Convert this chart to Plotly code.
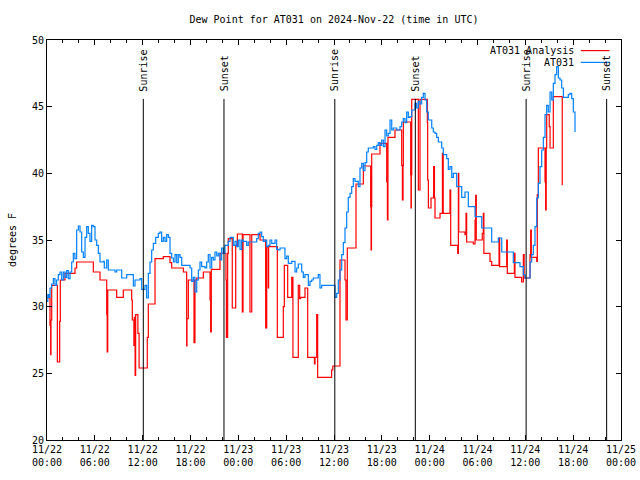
import datetime as dt
import plotly.graph_objects as go

# ---- data (hours after 2024-11-22 00:00 UTC, dew point degF) ----
obs_hours = [0.0, 0.1, 0.25, 0.38, 0.58, 0.8, 1.0, 1.2, 1.42, 1.63, 1.84, 2.05, 2.26, 2.47, 2.67, 2.89,
             3.1, 3.3, 3.5, 3.72, 3.93, 4.14, 4.35, 4.56, 4.77, 4.98, 5.18, 5.39, 5.6, 5.8, 6.02, 6.23,
             6.44, 6.65, 7.06, 7.19, 7.49, 7.69, 8.53, 8.74, 9.37, 10.0, 10.83, 11.04, 11.67, 11.88,
             12.29, 12.5, 12.71, 12.92, 13.13, 13.34, 13.63, 13.96, 14.17, 14.38, 14.59, 14.8, 15.01,
             15.22, 15.43, 15.64, 15.85, 16.06, 16.27, 16.47, 16.68, 16.9, 17.94, 18.15, 18.35, 18.56,
             18.78, 18.98, 19.19, 19.4, 19.82, 20.03, 20.23, 20.45, 20.66, 20.86, 21.07, 21.29, 21.49,
             21.7, 21.91, 22.12, 22.33, 22.74, 22.96, 23.37, 23.58, 23.8, 24.0, 24.21, 24.42, 24.63,
             25.05, 25.25, 26.3, 26.5, 26.72, 26.93, 27.13, 27.35, 27.56, 27.76, 27.97, 28.19, 28.6,
             28.81, 29.01, 29.23, 29.85, 30.07, 30.27, 30.69, 31.11, 31.32, 31.52, 31.95, 32.15, 32.36,
             32.78, 32.99, 33.2, 33.4, 34.03, 34.24, 34.45, 36.13, 36.34, 36.54, 36.75, 36.97, 37.17,
             37.38, 37.59, 37.79, 38.01, 38.22, 38.42, 38.63, 39.05, 39.26, 39.48, 39.68, 39.89, 40.1,
             40.3, 40.93, 41.14, 41.36, 41.56, 41.77, 41.98, 42.19, 42.4, 42.61, 42.81, 43.03, 43.24,
             43.44, 43.87, 44.28, 44.49, 44.69, 44.91, 45.12, 45.32, 45.53, 45.75, 46.16, 46.37, 46.58,
             46.79, 47.0, 47.2, 47.42, 47.63, 47.83, 48.26, 48.46, 48.67, 48.88, 49.09, 49.51, 49.71,
             50.14, 50.34, 50.55, 50.77, 50.97, 51.39, 52.02, 52.43, 52.85, 53.69, 54.53, 55.78, 56.61,
             57.04, 58.49, 59.33, 59.75, 59.96, 60.59, 60.8, 61.0, 61.21, 61.43, 61.63, 61.84, 62.05,
             62.26, 62.47, 62.68, 62.88, 63.1, 63.31, 63.51, 63.72, 63.93, 64.14, 64.35, 64.56, 64.77,
             65.39, 65.6, 65.82, 66.02, 66.23]
obs_values = [30.4, 30.9, 30.7, 31.4, 31.7, 32.1, 31.6, 32.0, 32.4, 32.6, 32.0, 32.6, 32.2, 32.7, 32.1, 32.6,
              33.35, 34.0, 33.6, 35.75, 36.05, 35.6, 34.1, 33.7, 35.2, 36.0, 35.5, 34.9, 36.1, 36.0, 35.0, 34.6,
              34.0, 33.35, 33.4, 32.9, 33.5, 32.75, 32.6, 32.75, 32.15, 32.4, 31.55, 32.0, 32.1, 31.3,
              31.6, 30.65, 32.5, 33.35, 34.25, 34.75, 35.2, 35.5, 35.6, 34.9, 35.2, 34.9, 35.4,
              35.2, 34.0, 33.65, 33.35, 33.9, 33.3, 33.9, 33.7, 33.1, 32.9, 31.9, 32.2, 31.1,
              32.0, 32.75, 33.35, 33.0, 32.9, 33.35, 33.9, 32.9, 33.7, 33.5, 34.1, 33.8, 34.0,
              33.5, 34.4, 34.0, 34.6, 34.9, 35.2, 34.6, 34.9, 34.5, 35.0, 34.3, 35.0, 34.9,
              34.6, 34.85, 35.1, 35.5, 35.6, 35.25, 34.9, 35.0, 34.5, 34.6, 35.0, 34.75, 35.0,
              34.3, 34.25, 34.4, 33.6, 33.8, 33.25, 33.4, 32.6, 32.9, 33.2, 32.6, 32.2, 32.4,
              31.6, 31.9, 32.0, 32.15, 32.4, 31.4, 31.6, 30.7, 31.0, 32.0, 32.75, 33.9, 34.8,
              35.9, 37.1, 38.2, 38.5, 39.0, 39.6, 39.4, 39.0, 40.4, 40.75, 40.2, 40.8, 41.6,
              41.9, 42.0, 41.8, 42.1, 42.3, 42.1, 42.5, 42.0, 43.25, 42.8, 43.0, 44.0, 43.25,
              43.4, 43.25, 43.5, 43.85, 44.1, 43.8, 44.6, 44.2, 44.25, 44.75, 45.25, 44.9, 45.4,
              45.2, 45.7, 46.0, 45.5, 44.6, 44.0, 43.4, 43.1, 43.0, 42.7, 42.35, 41.9, 41.4,
              41.1, 40.3, 40.5, 39.7, 40.0, 39.0, 38.2, 38.6, 37.5, 36.75, 35.9, 34.85, 35.15,
              34.1, 33.3, 33.0, 32.4, 32.15, 33.35, 33.9, 34.6, 36.0, 38.15, 39.25, 40.5, 41.75,
              42.7, 44.4, 45.1, 44.6, 46.1, 45.5, 46.75, 47.4, 48.0, 47.15, 47.0, 46.4, 45.7,
              45.9, 46.0, 45.6, 44.6, 43.1]

ana_hours = [0.0, 0.38, 0.46, 0.5, 0.59, 1.3, 1.59, 1.67, 2.26, 3.51, 3.72, 5.81, 6.65, 7.49, 7.55, 7.62,
             8.74, 9.57, 10.62, 10.7, 10.9, 10.95, 11.05, 11.12, 11.4, 11.55, 12.58, 12.71, 13.55, 14.59,
             15.43, 15.64, 17.1, 17.52, 17.56, 17.73, 18.44, 18.56, 18.78, 19.61, 20.45, 20.53, 20.61,
             21.7, 22.45, 22.5, 22.66, 22.74, 23.24, 23.67, 23.88, 24.5, 24.59, 25.46, 25.68, 26.72,
             27.43, 27.56, 27.76, 27.8, 28.89, 29.64, 29.77, 30.19, 30.7, 30.85, 31.52, 31.7, 31.8,
             32.36, 32.7, 33.55, 33.62, 33.83, 33.95, 35.7, 35.85, 36.75, 37.38, 37.5, 37.67, 38.76,
             39.68, 40.6, 40.65, 40.7, 40.73, 41.77, 42.61, 42.7, 42.77, 43.65, 44.49, 44.58, 44.66,
             44.7, 45.62, 45.66, 45.7, 45.75, 46.58, 46.79, 47.71, 47.75, 47.84, 48.17, 48.5, 48.6,
             48.67, 49.3, 49.6, 49.7, 50.55, 50.64, 51.52, 51.6, 51.65, 52.43, 52.56, 52.64, 53.48,
             53.69, 53.77, 53.85, 54.6, 54.73, 54.8, 55.57, 55.78, 56.7, 56.78, 57.66, 57.74, 58.62,
             58.7, 59.54, 59.75, 59.85, 60.59, 60.67, 60.75, 61.43, 61.5, 61.63, 62.47, 62.55, 62.62,
             62.68, 63.0, 63.1, 63.51, 64.63]
ana_values = [30.65, 28.6, 26.4, 29.0, 31.6, 25.85, 28.9, 32.0, 32.5, 32.9, 33.35, 32.6, 32.0, 29.4, 26.6, 31.25,
              30.7, 31.25, 30.5, 29.0, 27.1, 29.2, 24.85, 29.4, 28.0, 25.4, 27.7, 30.2, 33.6, 33.75,
              33.3, 32.9, 32.6, 27.05, 29.1, 32.0, 27.3, 32.0, 32.15, 32.6, 30.5, 28.1, 32.8,
              34.0, 32.0, 27.7, 34.0, 35.1, 29.9, 34.6, 35.45, 29.6, 35.4, 29.6, 35.4, 35.0,
              28.4, 34.5, 31.4, 34.5, 27.7, 30.0, 33.1, 30.7, 32.2, 26.2, 31.6, 30.6, 30.7,
              31.4, 26.2, 25.7, 26.2, 29.4, 24.7, 25.25, 25.55, 33.5, 32.0, 29.0, 34.4, 39.2,
              40.55, 37.5, 34.25, 37.5, 41.45, 42.25, 39.35, 36.5, 42.7, 43.25, 40.6, 38.0, 40.6,
              43.85, 39.9, 37.4, 39.9, 45.55, 38.75, 45.55, 43.8, 39.5, 37.4, 38.15, 40.5, 38.15,
              36.65, 37.0, 41.5, 37.0, 38.75, 34.6, 34.0, 40.0, 35.6, 35.4, 37.0, 34.85, 34.7,
              36.5, 38.35, 35.0, 35.5, 37.0, 34.0, 33.4, 33.1, 35.15, 33.0, 35.0, 32.5, 34.0,
              32.2, 31.85, 33.9, 32.15, 33.9, 35.75, 33.7, 33.4, 38.4, 41.9, 39.35, 37.25, 41.9,
              44.4, 43.5, 41.9, 45.75, 39.1]

sun_hours = [12.08, 22.2, 36.1, 46.2, 60.1, 70.2]
sun_labels = ["Sunrise", "Sunset", "Sunrise", "Sunset", "Sunrise", "Sunset"]

series_names = ["AT031 Analysis", "AT031"]
series_colors = ["#ff0000", "#0080ff"]

base = dt.datetime(2024, 11, 22, 0, 0)


def to_time(hours):
    return [base + dt.timedelta(hours=h) for h in hours]


FONT = "DejaVu Sans Mono"

fig = go.Figure()
fig.add_trace(go.Scatter(x=to_time(ana_hours), y=ana_values, mode="lines", line_shape="hv",
                         line=dict(color=series_colors[0], width=1.2), name=series_names[0]))
fig.add_trace(go.Scatter(x=to_time(obs_hours), y=obs_values, mode="lines", line_shape="hv",
                         line=dict(color=series_colors[1], width=1.2), name=series_names[1]))

for h, lab in zip(sun_hours, sun_labels):
    t = base + dt.timedelta(hours=h)
    fig.add_shape(type="line", x0=t, x1=t, y0=20, y1=45.58, xref="x", yref="y",
                  line=dict(color="black", width=1))
    fig.add_annotation(x=t, y=46.0, xref="x", yref="y", text=lab, textangle=-90,
                       showarrow=False, xanchor="center", yanchor="bottom",
                       font=dict(family=FONT, size=10, color="black"))

# gnuplot-style legend: text on the left, sample line on the right
leg_y = [0.9735, 0.944]
for name, col, yy in zip(series_names, series_colors, leg_y):
    fig.add_annotation(x=0.921, y=yy, xref="paper", yref="paper", text=name, showarrow=False,
                       xanchor="right", yanchor="middle", font=dict(family=FONT, size=10, color="black"))
    fig.add_shape(type="line", x0=0.93, x1=0.98, y0=yy, y1=yy, xref="paper", yref="paper",
                  line=dict(color=col, width=1.2))

fig.update_layout(
    width=640, height=480,
    margin=dict(l=47, r=19, t=40, b=40, autoexpand=False),
    paper_bgcolor="white", plot_bgcolor="white",
    showlegend=False,
    font=dict(family=FONT, size=10, color="black"),
    title=dict(text="Dew Point for AT031 on 2024-Nov-22 (time in UTC)", x=0.5, xref="paper",
               xanchor="center", y=1 - 19 / 480, yref="container", yanchor="middle",
               font=dict(family=FONT, size=10, color="black")),
)
fig.update_xaxes(
    type="date", range=[base, base + dt.timedelta(hours=72)], automargin=False,
    tick0=base, dtick=6 * 3600 * 1000, tickformat="%m/%d<br>%H:%M",
    ticks="inside", ticklen=5, tickcolor="black", showgrid=False, zeroline=False,
    showline=True, linecolor="black", linewidth=1, mirror="allticks",
    minor=dict(dtick=2 * 3600 * 1000, ticks="inside", ticklen=3, tickcolor="black", showgrid=False),
    tickfont=dict(family=FONT, size=10, color="black"),
)
fig.update_yaxes(
    range=[20, 50], dtick=5, ticks="inside", ticklen=5, tickcolor="black", automargin=False,
    showgrid=False, zeroline=False, showline=True, linecolor="black", linewidth=1, mirror="allticks",
    title=dict(text="degrees F", font=dict(family=FONT, size=10, color="black"), standoff=13),
    tickfont=dict(family=FONT, size=10, color="black"),
)

fig.write_html("out.html", config={"displayModeBar": False},
               post_script="document.body.style.margin='0';document.body.style.overflow='hidden';")
